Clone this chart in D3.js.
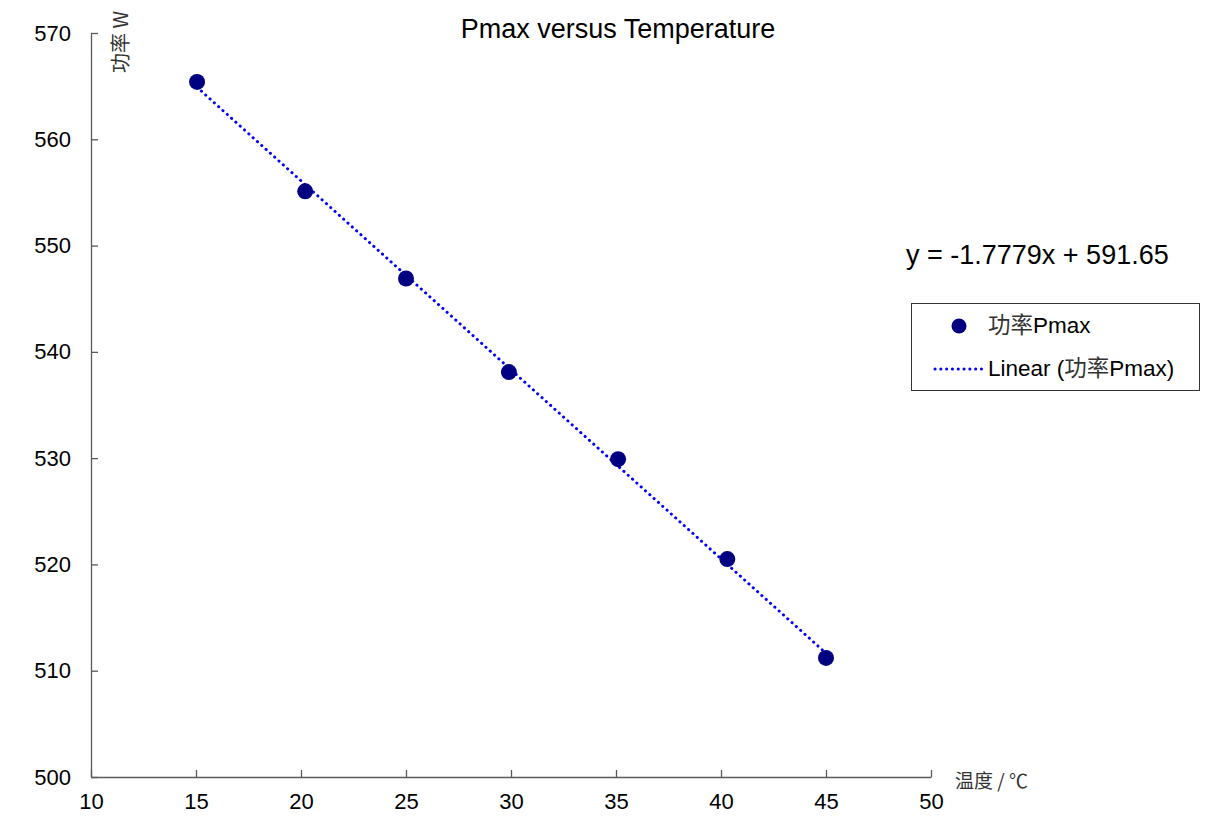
<!DOCTYPE html>
<html>
<head>
<meta charset="utf-8">
<script src="https://cdn.jsdelivr.net/npm/d3@7"></script>
<style>
  body { margin: 0; background: #fff; }
  text { font-family: Arial, "Liberation Sans", sans-serif; }
  .cjk { font-family: "Noto Sans CJK SC", sans-serif; }
</style>
</head>
<body>
<div id="chart"></div>
<script>
// data
const temps = [15.05, 20.2, 25.0, 29.9, 35.1, 40.3, 45.0];
const pmax = [565.4, 555.1, 546.9, 538.1, 529.9, 520.5, 511.2];
const xTicks = [10, 15, 20, 25, 30, 35, 40, 45, 50];
const yTicks = [500, 510, 520, 530, 540, 550, 560, 570];
const slope = -1.7779;
const intercept = 591.65;

const w = 1229, h = 832;
const svg = d3.select('#chart').append('svg').attr('width', w).attr('height', h);

const x = d3.scaleLinear().domain([10, 50]).range([91, 931]);
const y = d3.scaleLinear().domain([500, 570]).range([777, 33]);

// axes
const xAxis = svg.append('g').attr('transform', 'translate(0,777)')
  .call(d3.axisBottom(x).tickValues(xTicks).tickSizeInner(-7).tickSizeOuter(0).tickPadding(16));
const yAxis = svg.append('g').attr('transform', 'translate(91,0)')
  .call(d3.axisLeft(y).tickValues(yTicks).tickSizeInner(-7).tickSizeOuter(0).tickPadding(20));
[xAxis, yAxis].forEach(a => {
  a.selectAll('path, line').attr('stroke', '#595959').attr('stroke-width', 1.3);
  a.selectAll('text').attr('font-size', 22).attr('fill', '#000')
    .style('font-family', 'Arial, "Liberation Sans", sans-serif');
});

// trend line
const xs = d3.extent(temps);
svg.append('line')
  .attr('x1', x(xs[0])).attr('y1', y(slope * xs[0] + intercept))
  .attr('x2', x(xs[1])).attr('y2', y(slope * xs[1] + intercept))
  .attr('stroke', '#0000ff').attr('stroke-width', 3)
  .attr('stroke-dasharray', '0.1,5.7').attr('stroke-linecap', 'round');

// points
svg.selectAll('.pt').data(temps).enter().append('circle')
  .attr('class', 'pt')
  .attr('cx', d => x(d)).attr('cy', (d, i) => y(pmax[i]))
  .attr('r', 8).attr('fill', '#000080');

// title, labels
svg.append('text').attr('x', 618).attr('y', 38).attr('text-anchor', 'middle')
  .attr('font-size', 27).text('Pmax versus Temperature');
svg.append('text').attr('class', 'cjk')
  .attr('transform', 'translate(128,73) rotate(-90)')
  .attr('font-size', 20).attr('fill', '#333').text('功率 W');
svg.append('text').attr('class', 'cjk').attr('x', 955).attr('y', 788)
  .attr('font-size', 19).attr('fill', '#333').text('温度 / ℃');

// equation
svg.append('text').attr('x', 906).attr('y', 264).attr('font-size', 27)
  .text('y = ' + slope + 'x + ' + intercept);

// legend
const lg = svg.append('g');
lg.append('rect').attr('x', 911.5).attr('y', 303.5).attr('width', 288).attr('height', 87)
  .attr('fill', '#fff').attr('stroke', '#333').attr('stroke-width', 1);
lg.append('circle').attr('cx', 959).attr('cy', 326).attr('r', 7.5).attr('fill', '#000080');
const t1 = lg.append('text').attr('x', 988).attr('y', 333).attr('font-size', 22.5);
t1.append('tspan').attr('class', 'cjk').attr('fill', '#333').text('功率');
t1.append('tspan').text('Pmax');
lg.append('line').attr('x1', 935).attr('y1', 369).attr('x2', 983).attr('y2', 369)
  .attr('stroke', '#0000ff').attr('stroke-width', 3)
  .attr('stroke-dasharray', '0.1,5.7').attr('stroke-linecap', 'round');
const t2 = lg.append('text').attr('x', 988).attr('y', 376).attr('font-size', 22.5);
t2.append('tspan').text('Linear (');
t2.append('tspan').attr('class', 'cjk').attr('fill', '#333').text('功率');
t2.append('tspan').text('Pmax)');
</script>
</body>
</html>
